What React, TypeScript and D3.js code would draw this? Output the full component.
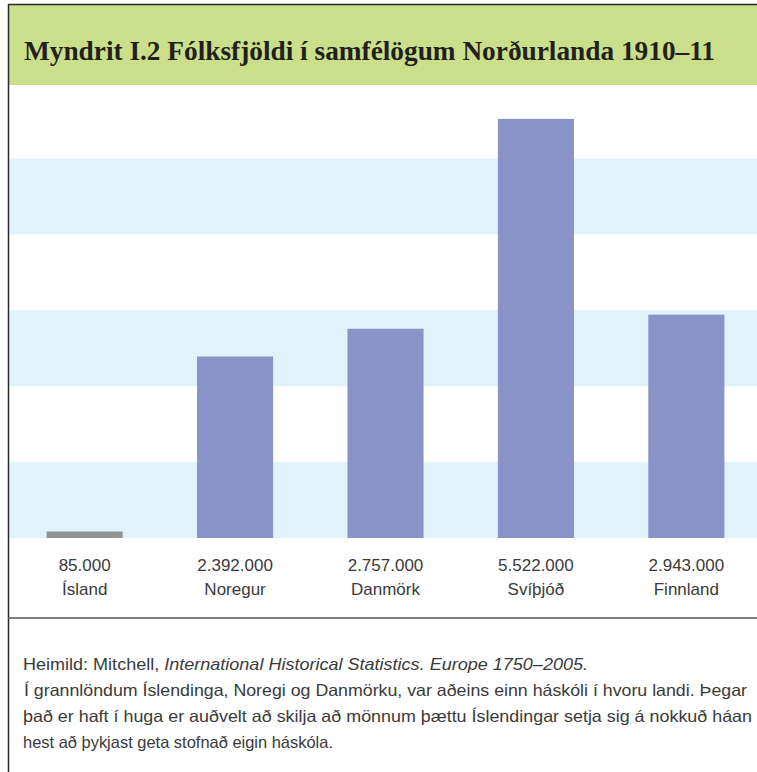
import React from 'react';
import * as d3 from 'd3';

// data
const countries = ['Ísland', 'Noregur', 'Danmörk', 'Svíþjóð', 'Finnland'];
const population = [85000, 2392000, 2757000, 5522000, 2943000];
const valueTicks = [0, 1000000, 2000000, 3000000, 4000000, 5000000, 6000000];

const title = 'Myndrit I.2 Fólksfjöldi í samfélögum Norðurlanda 1910–11';
const sourcePlain = 'Heimild: Mitchell, ';
const sourceItalic = 'International Historical Statistics. Europe 1750–2005.';
const noteLines = [
  'Í grannlöndum Íslendinga, Noregi og Danmörku, var aðeins einn háskóli í hvoru landi. Þegar',
  'það er haft í huga er auðvelt að skilja að mönnum þættu Íslendingar setja sig á nokkuð háan',
  'hest að þykjast geta stofnað eigin háskóla.',
];

const W = 757;
const H = 772;

export default function App() {
  const baseline = 538;
  const pxPerMillion = 75.9;

  const x = d3.scaleBand<string>()
    .domain(countries)
    .range([9, 762])
    .paddingInner(0.494)
    .paddingOuter(0.25);

  const y = d3.scaleLinear()
    .domain([0, 6000000])
    .range([baseline, baseline - 6 * pxPerMillion]);

  const fmt = d3.formatLocale({ decimal: ',', thousands: '.', grouping: [3], currency: ['', ''] }).format(',');

  const sans = '"Liberation Sans", Arial, sans-serif';
  const textColor = '#3a3a3a';

  // alternating light blue stripes, one per million
  const stripes = valueTicks.slice(0, -1).filter((_, i) => i % 2 === 0);

  return (
    <svg width={W} height={H} style={{ position: 'absolute', left: 0, top: 0, background: '#fff' }}>
      {/* header */}
      <rect x={9} y={5} width={W - 9} height={80} fill="#cbdf8a" />
      <text
        x={24}
        y={60}
        fontFamily='"Liberation Serif", "Times New Roman", serif'
        fontWeight="bold"
        fontSize={27}
        fill="#231f20"
        textLength={691}
        lengthAdjust="spacingAndGlyphs"
      >
        {title}
      </text>

      {/* stripes */}
      {stripes.map(t => (
        <rect
          key={t}
          x={9}
          y={y(t + 1000000)}
          width={W - 9}
          height={y(t) - y(t + 1000000)}
          fill="#e0f3fa"
        />
      ))}

      {/* bars */}
      {countries.map((c, i) => (
        <rect
          key={c}
          x={x(c)}
          y={y(population[i])}
          width={x.bandwidth()}
          height={baseline - y(population[i])}
          fill={c === 'Ísland' ? '#939393' : '#8a93c8'}
        />
      ))}

      {/* labels under bars */}
      {countries.map((c, i) => (
        <g key={c} fontFamily={sans} fontSize={17} fill={textColor} textAnchor="middle">
          <text x={(x(c) ?? 0) + x.bandwidth() / 2} y={571}>{fmt(population[i])}</text>
          <text x={(x(c) ?? 0) + x.bandwidth() / 2} y={595}>{c}</text>
        </g>
      ))}

      {/* frame lines */}
      <line x1={8} x2={W} y1={4.5} y2={4.5} stroke="#2b2b2b" strokeWidth={1.5} />
      <line x1={8.5} x2={8.5} y1={4} y2={H} stroke="#2b2b2b" strokeWidth={1.5} />
      <line x1={8} x2={W} y1={618} y2={618} stroke="#555" strokeWidth={1.5} />

      {/* source and note */}
      <g fontFamily={sans} fontSize={16.5} fill={textColor}>
        <text x={23} y={670} textLength={565} lengthAdjust="spacingAndGlyphs">
          {sourcePlain}
          <tspan fontStyle="italic">{sourceItalic}</tspan>
        </text>
        <text x={24} y={696} textLength={723} lengthAdjust="spacingAndGlyphs">{noteLines[0]}</text>
        <text x={23} y={722} textLength={729} lengthAdjust="spacingAndGlyphs">{noteLines[1]}</text>
        <text x={23} y={748} textLength={310} lengthAdjust="spacingAndGlyphs">{noteLines[2]}</text>
      </g>
    </svg>
  );
}
